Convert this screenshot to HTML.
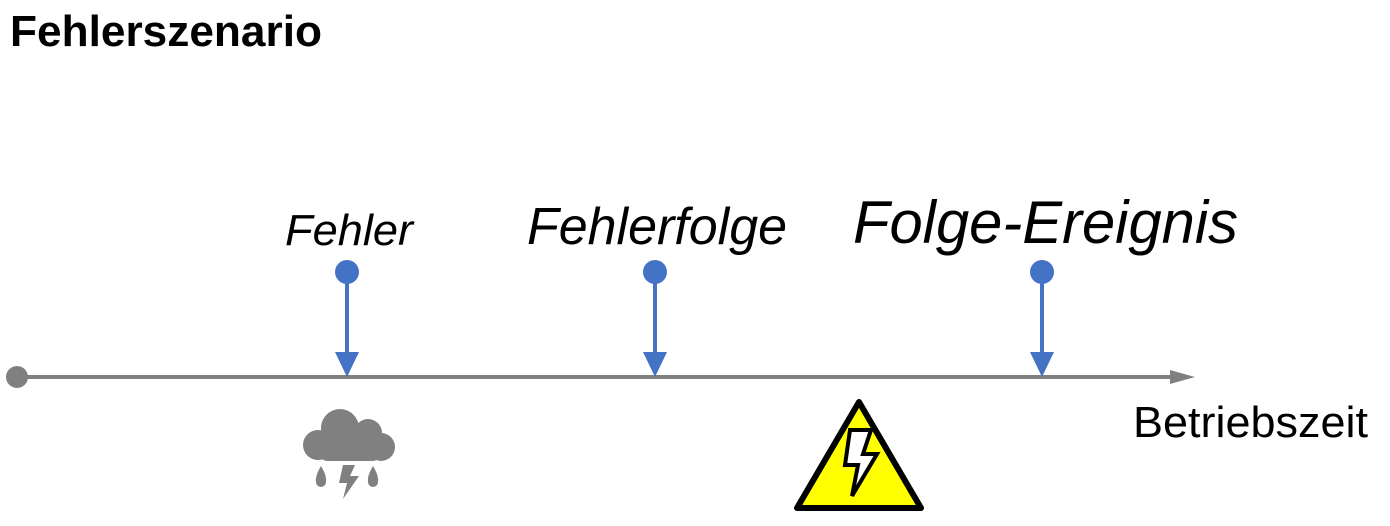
<!DOCTYPE html>
<html><head><meta charset="utf-8"><style>html,body{margin:0;padding:0;background:#fff}svg{display:block}</style></head>
<body>
<svg width="1390" height="526" viewBox="0 0 1390 526" xmlns="http://www.w3.org/2000/svg" font-family="Liberation Sans, Arial, sans-serif">
<text x="10" y="46" font-size="44" font-weight="bold" textLength="312" lengthAdjust="spacingAndGlyphs">Fehlerszenario</text>
<text x="285" y="245" font-size="44" font-style="italic" textLength="128" lengthAdjust="spacingAndGlyphs">Fehler</text>
<text x="527" y="244" font-size="52" font-style="italic" textLength="260" lengthAdjust="spacingAndGlyphs">Fehlerfolge</text>
<text x="853" y="243" font-size="60" font-style="italic" textLength="385" lengthAdjust="spacingAndGlyphs">Folge-Ereignis</text>
<text x="1133" y="437" font-size="44" textLength="235" lengthAdjust="spacingAndGlyphs">Betriebszeit</text>
<line x1="17" y1="377" x2="1175" y2="377" stroke="#808080" stroke-width="4"/>
<polygon points="1170,370 1195,377 1170,384" fill="#808080"/>
<circle cx="17" cy="377" r="11" fill="#808080"/>
<g fill="#4472c4" stroke="#4472c4">
<circle cx="347" cy="272" r="12" stroke="none"/><line x1="347" y1="272" x2="347" y2="355" stroke-width="4"/><polygon points="335,352 359,352 347,377" stroke="none"/>
<circle cx="655" cy="272" r="12" stroke="none"/><line x1="655" y1="272" x2="655" y2="355" stroke-width="4"/><polygon points="643,352 667,352 655,377" stroke="none"/>
<circle cx="1042" cy="272" r="12" stroke="none"/><line x1="1042" y1="272" x2="1042" y2="355" stroke-width="4"/><polygon points="1030,352 1054,352 1042,377" stroke="none"/>
</g>
<g fill="#808080">
<circle cx="340" cy="428" r="19"/><circle cx="368" cy="433" r="14"/><circle cx="318" cy="445" r="15"/><circle cx="381" cy="447" r="14"/>
<rect x="318" y="435" width="64" height="26" rx="10"/>
<path d="M321,466 Q315,476 316,482 A5,5 0 0 0 326,482 Q327,476 321,466Z"/>
<path d="M373,466 Q367,476 368,482 A5,5 0 0 0 378,482 Q379,476 373,466Z"/>
<polygon points="343,465 355,465 350,476 359,476 343,499 347,483 339,483"/>
</g>
<polygon points="859,402 921,508 797,508" fill="#ffff00" stroke="#000" stroke-width="6" stroke-linejoin="round"/>
<polygon points="850,430 871,430 863,454 877,454 852,496 858,465 845,465" fill="#fff" stroke="#000" stroke-width="4" stroke-linejoin="miter"/>
</svg>
</body></html>
